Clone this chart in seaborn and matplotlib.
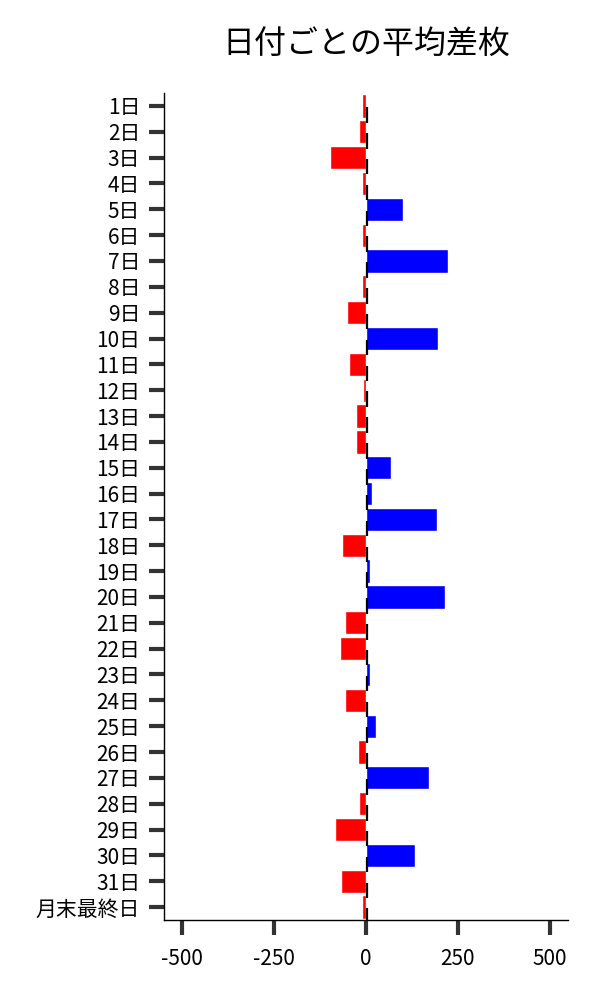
import numpy as np
import pandas as pd
import matplotlib
matplotlib.use("Agg")
import matplotlib.pyplot as plt
import seaborn as sns

days = [f"{i}日" for i in range(1, 32)] + ["月末最終日"]
diff = [-12, -20, -99, -10, 102, -10, 223, -12, -53, 196, -47, -7,
        -28, -28, 69, 17, 194, -64, 12, 215, -58, -72, 12, -58,
        28, -23, 172, -20, -85, 134, -69, -12]
x_ticks = [-500, -250, 0, 250, 500]

sns.set_style("ticks")
plt.rcParams["font.family"] = ["Noto Sans CJK JP", "DejaVu Sans"]
plt.rcParams["axes.unicode_minus"] = False

df = pd.DataFrame({"day": days, "diff": diff})
df["sign"] = np.where(df["diff"] >= 0, "pos", "neg")

fig = plt.figure(figsize=(6, 10), dpi=100)
ax = fig.add_axes([0.273, 0.08, 0.674, 0.827])

sns.barplot(data=df, x="diff", y="day", hue="sign", order=days,
            palette={"pos": "#0000ff", "neg": "#ff0000"}, dodge=False,
            saturation=1, legend=False, width=0.9, orient="h", ax=ax)

# thin black marks at zero, slightly below each bar centre
pos = np.arange(len(days))
ax.vlines(np.zeros(len(days)) + 3, pos + 0.05, pos + 0.65, color="black", lw=1.6)

ax.set_xlim(-550, 550)
ax.set_ylim(len(days) - 0.5, -0.5)
ax.set_xticks(x_ticks)
ax.set_xticklabels([str(v) for v in x_ticks])
ax.set_xlabel("")
ax.set_ylabel("")
ax.set_title("日付ごとの平均差枚", fontsize=23, pad=28, color="black")

ax.tick_params(axis="both", length=11, width=3, color="#333333",
               labelsize=15, labelcolor="black")
ax.tick_params(axis="x", pad=9)
ax.tick_params(axis="y", pad=6)
sns.despine(ax=ax)
for s in ["left", "bottom"]:
    ax.spines[s].set_color("black")
    ax.spines[s].set_linewidth(1)

fig.savefig("out.png", dpi=100)
